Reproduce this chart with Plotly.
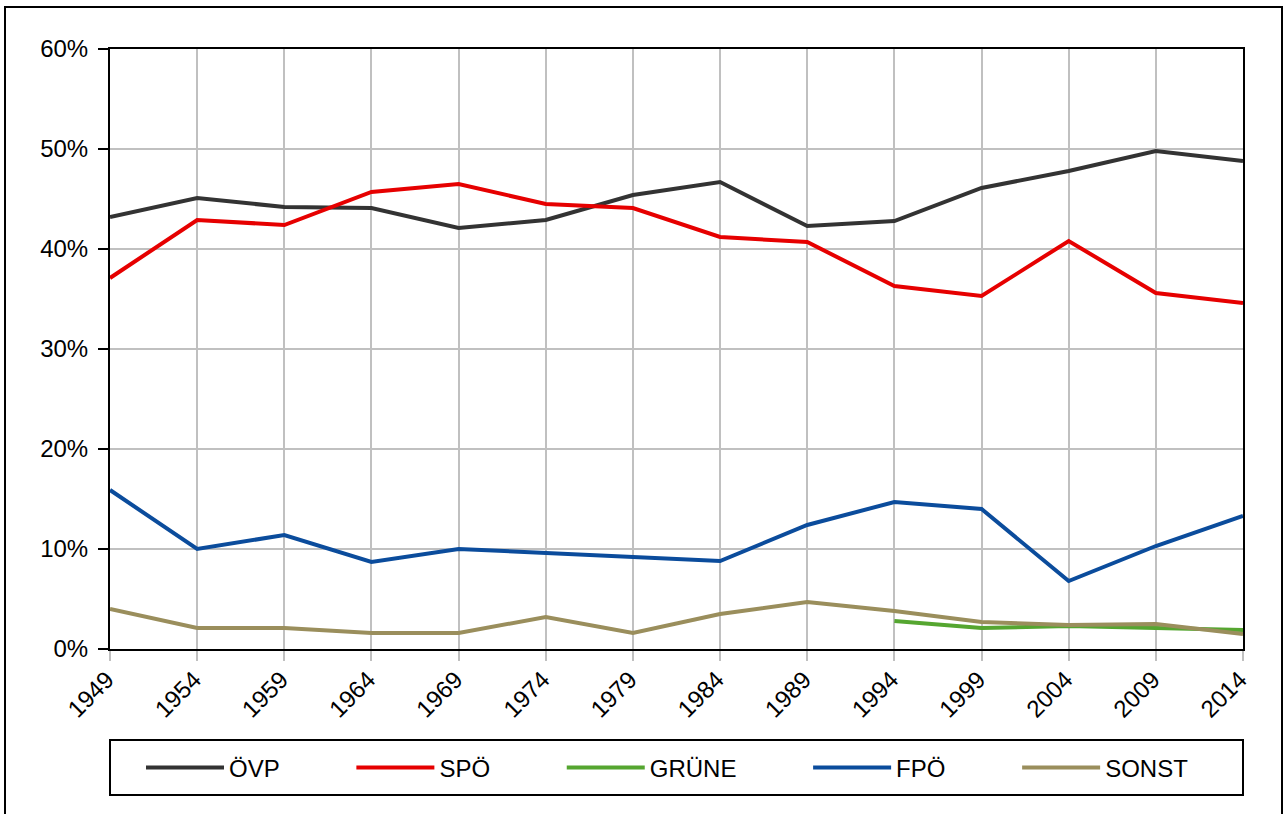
import plotly.graph_objects as go

years = [1949, 1954, 1959, 1964, 1969, 1974, 1979, 1984, 1989, 1994, 1999, 2004, 2009, 2014]
oevp = [43.2, 45.1, 44.2, 44.1, 42.1, 42.9, 45.4, 46.7, 42.3, 42.8, 46.1, 47.8, 49.8, 48.8]
spoe = [37.1, 42.9, 42.4, 45.7, 46.5, 44.5, 44.1, 41.2, 40.7, 36.3, 35.3, 40.8, 35.6, 34.6]
gruene_years = [1994, 1999, 2004, 2009, 2014]
gruene = [2.8, 2.1, 2.3, 2.1, 1.9]
fpoe = [15.9, 10.0, 11.4, 8.7, 10.0, 9.6, 9.1, 8.8, 12.4, 14.7, 14.0, 6.8, 10.3, 13.3]
sonst = [4.0, 2.1, 2.1, 1.6, 1.6, 3.2, 1.6, 3.5, 4.7, 3.8, 2.7, 2.4, 2.5, 1.5]

series = [
    ("ÖVP", years, oevp, "#333333"),
    ("SPÖ", years, spoe, "#e60000"),
    ("GRÜNE", gruene_years, gruene, "#55a630"),
    ("FPÖ", years, fpoe, "#0b4c9c"),
    ("SONST", years, sonst, "#9a8e5c"),
]

PAD = "\u00a0" * 10
fig = go.Figure()
for i, (name, xs, ys, col) in enumerate(series):
    label = name + (PAD if i < len(series) - 1 else "")
    fig.add_trace(go.Scatter(x=xs, y=ys, mode="lines", name=label,
                             line=dict(color=col, width=4)))

# plot area at x 110..1243, y 49..649 (page body margin removed below)
L, T, R = 110, 49, 41
PW, PH = 1133, 600
W, H = 1284, 814
B = H - T - PH

def px(x):
    return (x - L) / PW

def py(y):
    return (T + PH - y) / PH

FONT = "Liberation Sans, Arial, sans-serif"
fig.update_layout(
    width=W, height=H,
    margin=dict(l=L, r=R, t=T, b=B, pad=0),
    paper_bgcolor="white", plot_bgcolor="white",
    font=dict(family=FONT, size=24, color="black"),
    showlegend=True,
    legend=dict(orientation="h", x=px(141), xanchor="left", y=py(768), yanchor="middle",
                bgcolor="rgba(0,0,0,0)", borderwidth=0, itemwidth=78,
                font=dict(family=FONT, size=24, color="black"),
                traceorder="normal"),
    xaxis=dict(range=[1949, 2014], tickvals=years, ticktext=[str(y) for y in years],
               tickangle=-45, ticks="outside", ticklen=10, tickwidth=2, tickcolor="#c0c0c0",
               ticklabelstandoff=-5, ticklabelshift=-3,
               showgrid=True, gridcolor="#c0c0c0", gridwidth=2,
               showline=True, linecolor="black", linewidth=2, mirror=True,
               zeroline=False, tickfont=dict(size=24)),
    yaxis=dict(range=[0, 60], dtick=10, ticksuffix="%", ticks="outside", ticklen=10,
               tickwidth=2, tickcolor="black", ticklabelstandoff=5,
               showgrid=True, gridcolor="#c0c0c0", gridwidth=2,
               showline=True, linecolor="black", linewidth=2, mirror=True,
               zeroline=False, tickfont=dict(size=24)),
    shapes=[
        dict(type="rect", xref="paper", yref="paper",
             x0=px(5), x1=px(1282), y0=py(830), y1=py(7),
             line=dict(color="black", width=2), fillcolor="rgba(0,0,0,0)", layer="below"),
        dict(type="rect", xref="paper", yref="paper",
             x0=0, x1=1, y0=py(795), y1=py(740),
             line=dict(color="black", width=2), fillcolor="rgba(0,0,0,0)", layer="below"),
    ],
)

fig.write_html("out.html", config={"displayModeBar": False},
               post_script="document.body.style.margin='0';")
